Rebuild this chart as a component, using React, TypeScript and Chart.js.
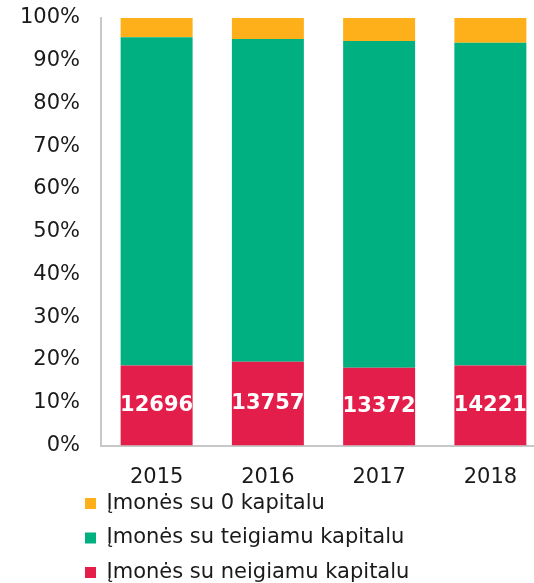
import React, { useEffect, useRef } from "react";
import { Chart, registerables } from "chart.js";

Chart.register(...registerables);

const years = ["2015", "2016", "2017", "2018"];
const negativeShare = [18.7, 19.6, 18.2, 18.7];
const positiveShare = [76.8, 75.5, 76.4, 75.5];
const zeroShare = [4.5, 4.9, 5.4, 5.8];
const negativeCounts = ["12696", "13757", "13372", "14221"];
const yTicks = [0, 10, 20, 30, 40, 50, 60, 70, 80, 90, 100];

const FONT = "'DejaVu Sans', Verdana, sans-serif";

const countLabels = {
  id: "countLabels",
  afterDatasetsDraw(chart: any) {
    const meta = chart.getDatasetMeta(0);
    const ctx = chart.ctx;
    ctx.save();
    ctx.fillStyle = "#ffffff";
    ctx.font = `bold 21px ${FONT}`;
    ctx.textAlign = "center";
    ctx.textBaseline = "middle";
    meta.data.forEach((bar: any, i: number) => {
      const y = (bar.y + bar.base) / 2;
      ctx.fillText(negativeCounts[i], bar.x, y);
    });
    ctx.restore();
  },
};

const legendShift = {
  id: "legendShift",
  afterLayout(chart: any) {
    const lg = chart.legend;
    if (lg) {
      const w = lg.right - lg.left;
      const h = lg.bottom - lg.top;
      lg.left = 71.5;
      lg.right = 71.5 + w;
      lg.top = chart.chartArea.bottom + 34;
      lg.bottom = lg.top + h;
    }
  },
};

export default function App() {
  const ref = useRef<HTMLCanvasElement>(null);
  useEffect(() => {
    if (!ref.current) return;
    const chart = new Chart(ref.current, {
      type: "bar",
      data: {
        labels: years,
        datasets: [
          { label: "Įmonės su neigiamu kapitalu", data: negativeShare, backgroundColor: "#E31E4B" },
          { label: "Įmonės su teigiamu kapitalu", data: positiveShare, backgroundColor: "#00B080" },
          { label: "Įmonės su 0 kapitalu", data: zeroShare, backgroundColor: "#FDB019" },
        ],
      },
      options: {
        responsive: false,
        animation: false,
        layout: { padding: { top: 18, left: 0, right: 0, bottom: 0 } },
        datasets: { bar: { categoryPercentage: 1, barPercentage: 0.647 } } as any,
        plugins: {
          legend: {
            position: "bottom",
            align: "start",
            reverse: true,
            labels: {
              boxWidth: 11,
              boxHeight: 11,
              padding: 13.5,
              color: "#1a1a1a",
              font: { family: FONT, size: 21 },
            },
          },
          tooltip: { enabled: false },
        },
        scales: {
          x: {
            stacked: true,
            grid: { display: false, drawTicks: false },
            border: { display: true, color: "#C8C8C8", width: 2 },
            ticks: { color: "#1a1a1a", font: { family: FONT, size: 21 }, padding: 19 },
            afterFit: (s: any) => { s.height = 50; s.paddingLeft = 0; s.paddingRight = 0; },
          },
          y: {
            stacked: true,
            min: 0,
            max: 100,
            grid: { display: false, drawTicks: false },
            border: { display: true, color: "#C8C8C8", width: 2 },
            afterBuildTicks: (s: any) => { s.ticks = yTicks.map((v) => ({ value: v })); },
            ticks: {
              color: "#1a1a1a",
              font: { family: FONT, size: 21 },
              padding: 21,
              callback: (v: any) => `${v}%`,
            },
            afterFit: (s: any) => { s.width = 101; s.paddingTop = 0; s.paddingBottom = 0; },
          },
        },
      },
      plugins: [countLabels, legendShift],
    });
    return () => chart.destroy();
  }, []);
  return (
    <div style={{ position: "fixed", left: 0, top: 0, width: 534, height: 583, overflow: "hidden", background: "#fff" }}>
      <canvas ref={ref} width={546} height={609} style={{ width: 546, height: 609, display: "block" }} />
    </div>
  );
}
